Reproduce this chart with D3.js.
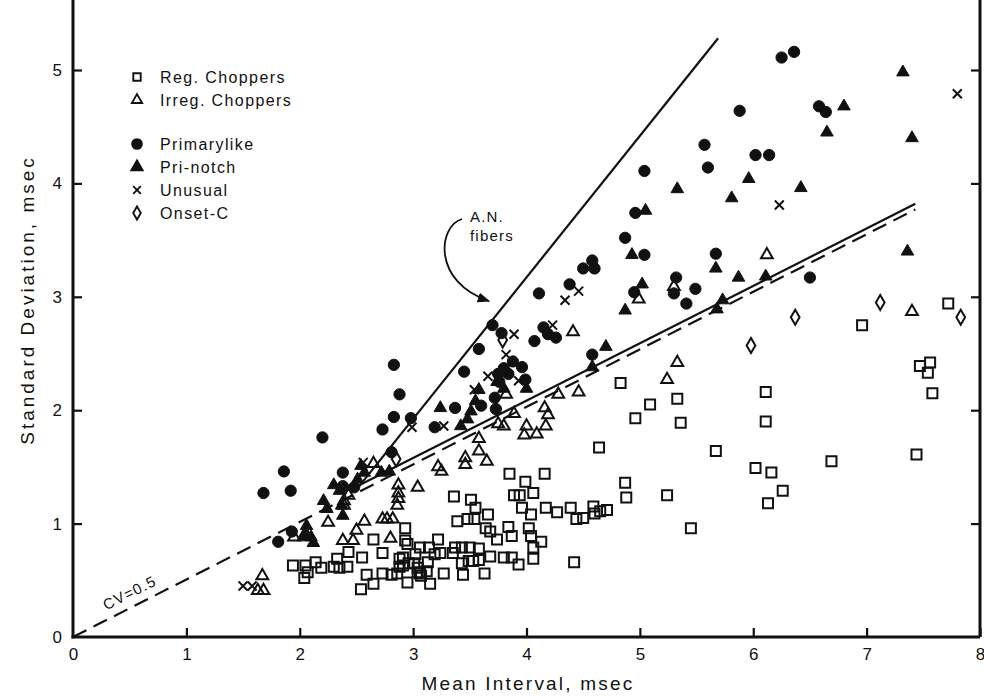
<!DOCTYPE html>
<html>
<head>
<meta charset="utf-8">
<script src="https://cdn.jsdelivr.net/npm/d3@7"></script>
<style>
  body { margin: 0; background: #fff; }
  svg text { font-family: 'Liberation Sans', 'DejaVu Sans', sans-serif; fill: #111; }
</style>
</head>
<body>
<div id="chart"></div>
<script>
// values: [mean interval, standard deviation] in msec
const regChoppers = [
  [7.72,2.94],[6.96,2.75],[7.47,2.39],[7.56,2.42],[7.54,2.33],[7.58,2.15],[7.44,1.61],[6.11,2.16],[6.11,1.90],
  [6.69,1.55],[6.02,1.49],[6.16,1.45],[6.26,1.29],[6.13,1.18],[5.67,1.64],[5.45,0.96],[5.24,1.25],[4.83,2.24],
  [5.09,2.05],[4.96,1.93],[5.33,2.10],[5.36,1.89],[4.64,1.67],[4.87,1.36],[4.88,1.23],[4.39,1.14],[4.44,1.04],
  [4.50,1.05],[4.59,1.15],[4.60,1.09],[4.65,1.11],[4.71,1.12],[4.42,0.66],
  [3.85,1.44],[4.16,1.44],[3.99,1.37],[4.06,1.27],[3.89,1.25],[3.94,1.25],[3.36,1.24],[3.51,1.21],[3.55,1.14],
  [3.96,1.14],[4.04,1.08],[4.17,1.14],[4.27,1.10],[3.66,1.08],[3.39,1.02],[3.48,1.04],[3.54,1.04],[3.64,0.96],
  [3.68,0.93],[3.74,0.86],[3.84,0.97],[3.87,0.89],[4.02,0.96],[4.04,0.89],[4.13,0.84],[4.06,0.79],[4.06,0.69],
  [3.80,0.70],[3.87,0.70],[3.93,0.64],[3.68,0.71],[3.63,0.56],[3.58,0.78],[3.58,0.68],[3.53,0.67],[3.49,0.67],
  [3.43,0.65],[3.50,0.79],[3.43,0.79],[3.37,0.79],[3.35,0.74],[3.44,0.55],[3.27,0.56],[3.22,0.86],[3.24,0.74],
  [3.19,0.73],[3.14,0.79],[3.13,0.66],[3.12,0.58],[3.06,0.56],[3.06,0.79],[3.02,0.73],[3.01,0.65],[2.96,0.65],
  [3.04,0.61],[3.15,0.47],[2.95,0.48],[2.93,0.96],[2.93,0.85],[2.91,0.70],[2.91,0.63],
  [1.94,0.63],[2.05,0.63],[2.07,0.57],[2.04,0.52],[2.14,0.66],[2.19,0.61],[2.30,0.62],[2.33,0.69],[2.35,0.61],
  [2.42,0.62],[2.43,0.75],[2.55,0.70],[2.59,0.55],[2.65,0.47],[2.54,0.42],[2.65,0.86],[2.73,0.74],[2.73,0.56],
  [2.81,0.55],[2.86,0.56],[2.88,0.69],[2.88,0.62],[2.95,0.82],[3.04,0.57],[3.07,0.54]
];
const irregChoppers = [
  [7.40,2.87],[6.12,3.37],[5.30,3.09],[4.99,2.98],[4.41,2.69],[5.33,2.42],[5.24,2.27],[4.46,2.16],
  [3.89,1.97],[4.16,2.02],[4.19,1.96],[4.00,1.86],[4.17,1.86],[3.98,1.78],[4.09,1.79],[3.75,1.88],[3.80,1.86],
  [3.58,1.75],[3.58,1.64],[3.46,1.58],[3.46,1.52],[3.65,1.55],[3.22,1.50],[3.25,1.46],[3.04,1.32],[4.28,2.14],
  [3.82,2.14],[2.87,1.34],[2.87,1.27],[2.87,1.22],[2.86,1.16],[2.65,1.53],[2.57,1.02],[2.73,1.04],[2.77,1.04],
  [2.82,1.04],[2.50,0.94],[2.38,0.85],[2.47,0.85],[2.80,0.87],[2.25,1.01],[2.39,1.16],[2.39,1.20],[2.43,1.25],
  [1.95,0.88],[1.67,0.54],[1.63,0.41],[1.68,0.41]
];
const primarylike = [
  [1.68,1.27],[1.86,1.46],[1.92,1.29],[2.20,1.76],[1.81,0.84],[1.93,0.93],[2.38,1.45],[2.38,1.33],[2.48,1.32],
  [2.73,1.83],[2.81,1.63],[2.83,2.40],[2.88,2.14],[2.83,1.94],[2.98,1.93],[3.19,1.85],[3.37,2.02],[3.45,2.34],
  [3.58,2.54],[3.70,2.75],[3.78,2.68],[3.75,2.32],[3.80,2.37],[3.84,2.32],[3.88,2.43],[3.96,2.38],[3.99,2.27],
  [3.76,2.25],[3.72,2.11],[3.73,2.01],[3.60,2.04],[4.07,2.61],[4.15,2.73],[4.19,2.67],[4.26,2.64],[4.11,3.03],
  [4.38,3.11],[4.50,3.25],[4.58,3.32],[4.60,3.25],[4.58,2.49],[4.87,3.52],[5.04,4.11],[4.96,3.74],[5.04,3.37],
  [4.95,3.04],[5.30,3.03],[5.32,3.17],[5.49,3.07],[5.41,2.94],[5.67,3.38],[5.57,4.34],[5.60,4.14],[6.02,4.25],
  [6.14,4.25],[5.88,4.64],[6.25,5.11],[6.36,5.16],[6.58,4.68],[6.64,4.63],[6.50,3.17]
];
const priNotch = [
  [7.32,4.98],[6.80,4.68],[6.65,4.45],[7.40,4.40],[5.33,3.95],[5.96,4.04],[5.81,3.87],[6.42,3.96],[5.05,3.76],
  [4.93,3.37],[5.02,3.11],[5.67,3.25],[5.87,3.17],[6.11,3.18],[4.87,2.88],[5.73,2.97],[5.68,2.89],[7.36,3.40],
  [4.70,2.56],[4.58,2.38],[3.24,2.02],[3.58,2.18],[3.55,2.08],[3.51,1.99],[3.48,1.92],[3.42,1.86],[3.74,2.25],
  [3.80,2.19],[4.00,2.19],[2.72,1.45],[2.79,1.46],[2.54,1.51],[2.57,1.45],[2.51,1.39],[2.30,1.34],[2.35,1.29],
  [2.21,1.20],[2.24,1.13],[2.38,1.07],[2.06,0.98],[2.05,0.92],[2.10,0.88],[2.12,0.83],[2.03,0.88],[2.37,1.16]
];
const unusual = [
  [7.80,4.79],[6.23,3.81],[4.46,3.05],[4.34,2.97],[4.23,2.75],[3.89,2.67],[3.66,2.30],[3.93,2.26],[3.54,2.18],
  [3.27,1.86],[2.99,1.85],[3.82,2.49],[1.50,0.45],[1.58,0.45],[2.56,1.54]
];
const onsetC = [[7.12,2.95],[7.83,2.82],[6.37,2.82],[5.98,2.57],[3.79,2.62],[2.85,1.57]];

// reference lines
const anFiberLine = [[2.50,1.30],[5.69,5.28]];
const upperFitLine = [[2.45,1.30],[7.43,3.82]];
const cvLine = [[0,0],[7.43,3.77]];

const xTicks = [0,1,2,3,4,5,6,7,8];
const yTicks = [0,1,2,3,4,5];
const legendItems = ['Reg. Choppers','Irreg. Choppers','Primarylike','Pri-notch','Unusual','Onset-C'];

const W = 984, H = 697;
const x = d3.scaleLinear().domain([0, 8]).range([73, 980]);
const y = d3.scaleLinear().domain([0, 5]).range([637, 70]);

const svg = d3.select('#chart').append('svg').attr('width', W).attr('height', H);

// frame
const frame = svg.append('g').attr('stroke', '#111').attr('stroke-width', 3).attr('fill', 'none');
frame.append('line').attr('x1', x(0)).attr('x2', x(0)).attr('y1', 0).attr('y2', y(0) + 1.5);
frame.append('line').attr('x1', x(0) - 1.5).attr('x2', x(8)).attr('y1', y(0)).attr('y2', y(0));
frame.append('line').attr('x1', x(8)).attr('x2', x(8)).attr('y1', 0).attr('y2', y(0));

const xAxis = svg.append('g')
  .attr('transform', `translate(0,${y(0)})`)
  .call(d3.axisBottom(x).tickValues(xTicks).tickSizeInner(-9).tickSizeOuter(0).tickPadding(11).tickFormat(d3.format('d')));
const yAxis = svg.append('g')
  .attr('transform', `translate(${x(0)},0)`)
  .call(d3.axisLeft(y).tickValues(yTicks).tickSizeInner(-9).tickSizeOuter(0).tickPadding(11).tickFormat(d3.format('d')));
const rAxis = svg.append('g')
  .attr('transform', `translate(${x(8)},0)`)
  .call(d3.axisRight(y).tickValues(yTicks.slice(1)).tickSizeInner(-9).tickSizeOuter(0).tickFormat(''));

[xAxis, yAxis, rAxis].forEach((g) => {
  g.select('.domain').remove();
  g.selectAll('.tick line').attr('stroke', '#111').attr('stroke-width', 2.2);
  g.selectAll('.tick text').style('font-size', '17px').attr('fill', '#111');
});
xAxis.selectAll('.tick').filter((d) => d === 0).select('line').remove();
yAxis.selectAll('.tick').filter((d) => d === 0).select('line').remove();

svg.append('text')
  .attr('x', 528).attr('y', 690)
  .attr('text-anchor', 'middle')
  .style('font-size', '19px').style('letter-spacing', '2.2px')
  .text('Mean Interval, msec');
svg.append('text')
  .attr('transform', 'translate(34,300) rotate(-90)')
  .attr('text-anchor', 'middle')
  .style('font-size', '19px').style('letter-spacing', '3px')
  .text('Standard Deviation, msec');

// reference lines
const line = d3.line().x((d) => x(d[0])).y((d) => y(d[1]));
svg.append('path').datum(cvLine).attr('d', line)
  .attr('stroke', '#111').attr('stroke-width', 2.2).attr('fill', 'none').attr('stroke-dasharray', '15,8');
svg.append('path').datum(upperFitLine).attr('d', line)
  .attr('stroke', '#111').attr('stroke-width', 2.2).attr('fill', 'none');
svg.append('path').datum(anFiberLine).attr('d', line)
  .attr('stroke', '#111').attr('stroke-width', 2.2).attr('fill', 'none');

// CV label along the dashed line
const cvAngle = -Math.atan((y(0) - y(3.77)) / (x(7.43) - x(0))) * 180 / Math.PI;
svg.append('text')
  .attr('transform', `translate(${x(0.52)},${y(0.26) - 10}) rotate(${cvAngle})`)
  .attr('text-anchor', 'middle')
  .style('font-size', '15px').style('letter-spacing', '1.2px')
  .text('CV=0.5');

// A.N. fibers label with curved arrow
svg.append('defs').append('marker')
  .attr('id', 'arrow').attr('viewBox', '0 0 10 10').attr('refX', 9).attr('refY', 5)
  .attr('markerWidth', 7).attr('markerHeight', 7).attr('orient', 'auto')
  .append('path').attr('d', 'M0,1 L10,5 L0,9 Z').attr('fill', '#111');
svg.append('path')
  .attr('d', 'M462,219 C438,226 432,282 489,301')
  .attr('stroke', '#111').attr('stroke-width', 1.8).attr('fill', 'none')
  .attr('marker-end', 'url(#arrow)');
svg.append('text').attr('x', 470).attr('y', 222).style('font-size', '15px').style('letter-spacing', '1.2px').text('A.N.');
svg.append('text').attr('x', 470).attr('y', 241).style('font-size', '15px').style('letter-spacing', '1.2px').text('fibers');

// marker drawing
const symSquare = d3.symbol().type(d3.symbolSquare).size(100);
const symTri = d3.symbol().type(d3.symbolTriangle).size(60);
const symTriFill = d3.symbol().type(d3.symbolTriangle).size(68);
const symCircle = d3.symbol().type(d3.symbolCircle).size(100);
const symDiamond = d3.symbol().type(d3.symbolDiamond).size(66);
const crossPath = (s) => `M${-s},${-s}L${s},${s}M${-s},${s}L${s},${-s}`;

function plot(data, pathD, filled, cls, sw) {
  svg.append('g').attr('class', cls)
    .selectAll('path')
    .data(data)
    .join('path')
    .attr('transform', (d) => `translate(${x(d[0])},${y(d[1])})`)
    .attr('d', pathD)
    .attr('fill', filled ? '#111' : 'none')
    .attr('stroke', '#111')
    .attr('stroke-width', sw);
}

plot(regChoppers, symSquare(), false, 'reg', 2);
plot(irregChoppers, symTri(), false, 'irreg', 2);
plot(onsetC, symDiamond(), false, 'onset', 2);
plot(primarylike, symCircle(), true, 'prim', 1);
plot(priNotch, symTriFill(), true, 'notch', 1);
plot(unusual, crossPath(4.5), false, 'unusual', 2);

// legend
const legendY = [77, 100, 144, 167, 190, 213];
const legendSyms = [
  [d3.symbol().type(d3.symbolSquare).size(55)(), false],
  [d3.symbol().type(d3.symbolTriangle).size(45)(), false],
  [d3.symbol().type(d3.symbolCircle).size(75)(), true],
  [d3.symbol().type(d3.symbolTriangle).size(55)(), true],
  [crossPath(3.8), false],
  [d3.symbol().type(d3.symbolDiamond).size(50)(), false]
];
const legend = svg.append('g').attr('class', 'legend');
legendItems.forEach((name, i) => {
  legend.append('path')
    .attr('transform', `translate(137,${legendY[i]})`)
    .attr('d', legendSyms[i][0])
    .attr('fill', legendSyms[i][1] ? '#111' : 'none')
    .attr('stroke', '#111').attr('stroke-width', 1.9);
  legend.append('text')
    .attr('x', 160).attr('y', legendY[i] + 6)
    .style('font-size', '16px').style('letter-spacing', '1.4px')
    .text(name);
});
</script>
</body>
</html>
